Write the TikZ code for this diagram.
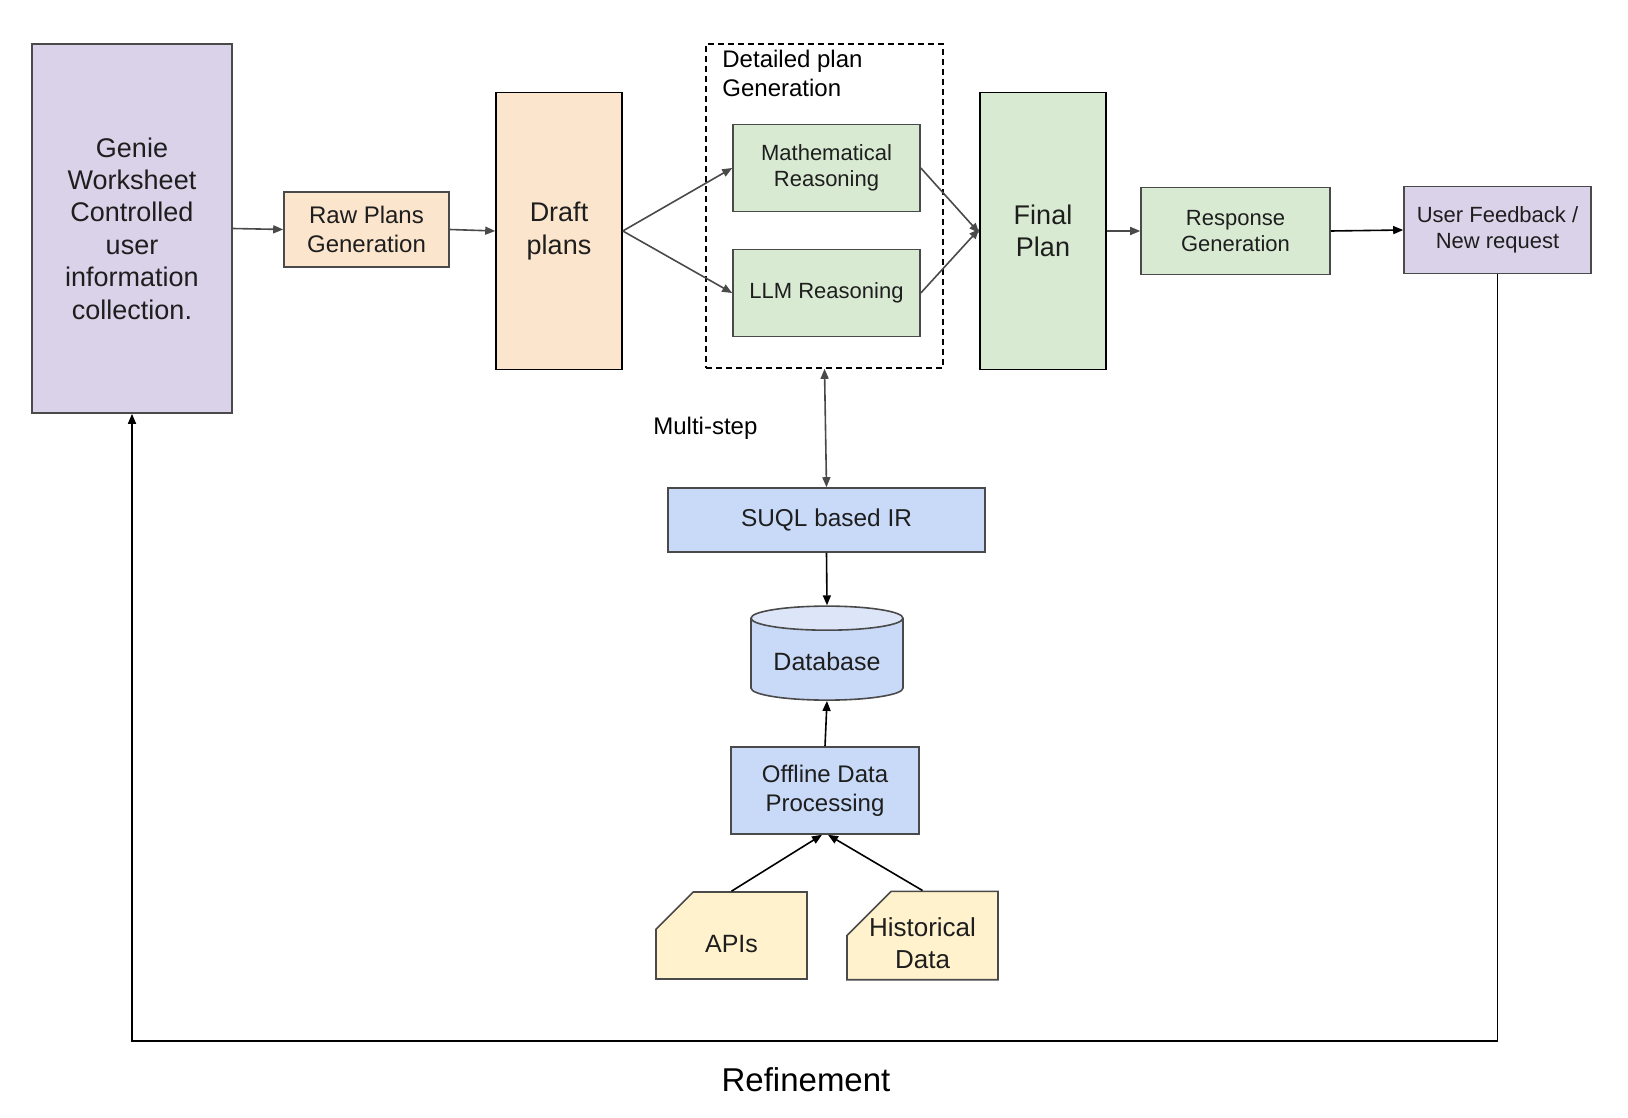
\documentclass[tikz,border=0pt]{standalone}
\usepackage{fontspec}
\setmainfont{Liberation Sans}
\usepackage{tikz}
\usetikzlibrary{arrows.meta,positioning,shapes.geometric,shapes.misc}
\definecolor{cLav}{HTML}{D9D2E9}
\definecolor{cPeach}{HTML}{FCE5CD}
\definecolor{cMint}{HTML}{D9EAD3}
\definecolor{cSky}{HTML}{C9DAF8}
\definecolor{cSkyTop}{HTML}{DDE6F8}
\definecolor{cCream}{HTML}{FFF2CC}
\definecolor{cInk}{HTML}{1E1E1E}
\definecolor{cEdge}{HTML}{4A4A4A}
\newcommand{\fsz}[1]{\fontsize{#1pt}{1.2\dimexpr#1pt\relax}\selectfont}
\tikzset{
  >={Triangle[length=5pt,width=4pt]},
  box/.style  ={draw=cEdge,line width=0.8pt,align=center,inner sep=2pt,text=cInk},
  pbox/.style ={box,fill=cLav},
  obox/.style ={box,fill=cPeach},
  gbox/.style ={box,fill=cMint},
  bbox/.style ={box,fill=cSky},
  ybox/.style ={box,fill=cCream,chamfered rectangle,
                chamfered rectangle corners=north west,
                chamfered rectangle xsep=14.5pt,chamfered rectangle ysep=8pt,
                inner xsep=-5pt},
  grp/.style  ={draw=black,line width=0.8pt,dash pattern=on 3pt off 2pt},
  ar/.style   ={->,line width=0.8pt,cEdge},
  ark/.style  ={->,line width=0.8pt,black},
}

\begin{document}
\begin{tikzpicture}[x=0.5pt,y=-0.5pt]
\useasboundingbox (0,0) rectangle (1628,1118);

% planning row
\node[pbox,minimum width=100pt,minimum height=184.5pt,font=\fsz{13.5}] (genie) at (132,228.5)
  {Genie\\Worksheet\\Controlled\\user\\information\\collection.};
\node[obox,minimum width=82.5pt,minimum height=37.5pt,font=\fsz{12}] (raw) at (366.5,229.5)
  {Raw Plans\\Generation};
\node[obox,draw=black,minimum width=63pt,minimum height=138.5pt,font=\fsz{13.5}] (draft) at (559,231)
  {Draft\\plans};
\node[grp,minimum width=118.5pt,minimum height=162pt] (detail) at (824.5,206) {};
\node[anchor=west,align=left,inner sep=0pt,font=\fsz{12}] (detlbl) at (722,73.5)
  {Detailed plan\\Generation};
\node[gbox,minimum width=93.5pt,minimum height=43.5pt,font=\fsz{11}] (math) at (826.5,168)
  {Mathematical\\Reasoning};
\node[gbox,minimum width=93.5pt,minimum height=43.5pt,font=\fsz{11}] (llm) at (826.5,293)
  {LLM Reasoning};
\node[gbox,draw=black,minimum width=63pt,minimum height=138.5pt,font=\fsz{13.5}] (final) at (1043,231)
  {Final\\Plan};
\node[gbox,minimum width=94.5pt,minimum height=43.5pt,font=\fsz{11}] (resp) at (1235.5,231)
  {Response\\Generation};
\node[pbox,minimum width=93.5pt,minimum height=43.5pt,font=\fsz{11}] (user) at (1497.5,230)
  {User Feedback /\\New request};

% retrieval column
\node[anchor=west,inner sep=0pt,font=\fsz{12}] (multi) at (653,428) {Multi-step};
\node[bbox,minimum width=158.5pt,minimum height=32pt,font=\fsz{12.2}] (suql) at (826.5,520)
  {SUQL based IR};
\node[cylinder,shape border rotate=90,aspect=0.2,draw=cEdge,line width=0.8pt,
      cylinder uses custom fill,cylinder body fill=cSky,cylinder end fill=cSkyTop,
      minimum width=76pt,minimum height=47pt,font=\fsz{12.5},text=cInk] (db) at (827,662)
  {Database};
\node[bbox,minimum width=94pt,minimum height=43.5pt,font=\fsz{12}] (off) at (825,790.5)
  {Offline Data\\Processing};
\node[ybox,minimum width=75.5pt,minimum height=43.5pt,font=\fsz{12.5},text height=17pt] (apis) at (731.5,935.5)
  {APIs};
\node[ybox,minimum width=75.5pt,minimum height=43.5pt,font=\fsz{13},text height=32.6pt,
      text depth=0pt,inner ysep=-2.2pt] (hist) at (922.5,935.5)
  {Historical\\Data};

\node[font=\fsz{16.5}] (refine) at (806,1080) {Refinement};
\coordinate (base) at (132,1041);

% connectors
\draw[ar] (genie.east) -- (raw.west);
\draw[ar] (raw.east) -- (draft.west);
\draw[ar] (draft.east) -- (math.west);
\draw[ar] (draft.east) -- (llm.west);
\draw[ar] (math.east) -- ([yshift=-1pt]final.west);
\draw[ar] (llm.east) -- ([yshift=1pt]final.west);
\draw[ar] (final.east) -- (resp.west);
\draw[ark] (resp.east) -- (user.west);
\draw[ar,<->] (detail.south) -- (suql.north);
\draw[ark] (suql.south) -- (db.north);
\draw[ark] (off.north) -- (db.south);
\draw[ark] (apis.north) -- ([xshift=-1.5pt]off.south);
\draw[ark] (hist.north) -- ([xshift=1.5pt]off.south);
\draw[ark] (user.south) |- (base) -- (genie.south);
\end{tikzpicture}
\end{document}
